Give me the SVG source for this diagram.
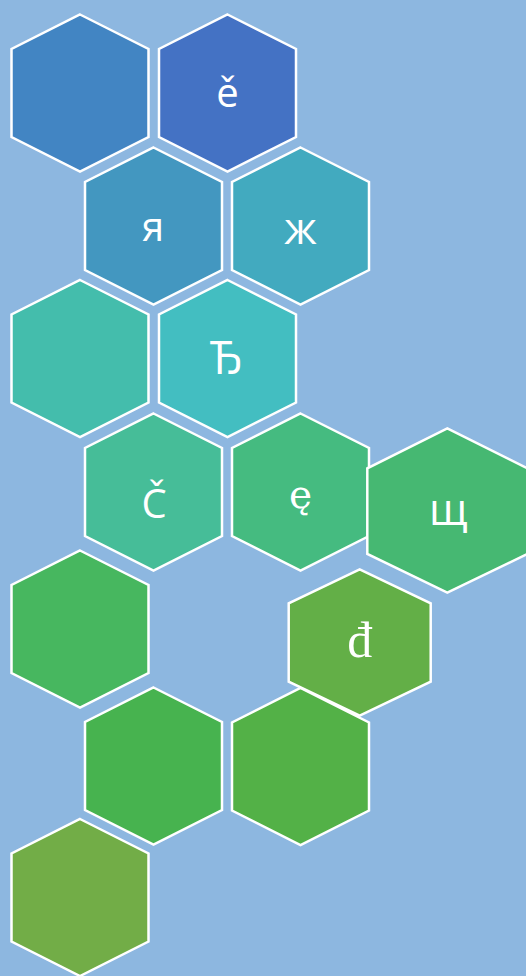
<svg xmlns="http://www.w3.org/2000/svg" width="526" height="976" viewBox="0 0 526 976">
<style>
.hx{stroke:#ffffff;stroke-width:2.5;stroke-linejoin:miter}
.s{font-family:"Open Sans","Noto Sans","DejaVu Sans",sans-serif;font-weight:400;fill:#ffffff;text-anchor:middle}
.r{font-family:"Liberation Serif","DejaVu Serif",serif;fill:#ffffff;text-anchor:middle}
.d{font-family:"DejaVu Serif","Liberation Serif",serif;fill:#ffffff;text-anchor:middle}
</style>
<defs>
<polygon id="hex" points="0,-78.5 68.5,-44 68.5,44 0,78.5 -68.5,44 -68.5,-44"/>
</defs>
<rect width="526" height="976" fill="#8DB7E0"/>
<g id="n1"><use href="#hex" x="80" y="93" class="hx" fill="#4285C3"/></g>
<g id="n2"><use href="#hex" x="227.5" y="93" class="hx" fill="#4472C4"/><text class="s" x="227.5" y="107" font-size="40">ě</text></g>
<g id="n3"><use href="#hex" x="153.5" y="226" class="hx" fill="#4397C0"/><text class="s" x="153" y="241" font-size="40">я</text></g>
<g id="n4"><use href="#hex" x="300.5" y="226" class="hx" fill="#42AABF"/><text class="s" x="300.5" y="244" font-size="44">ж</text></g>
<g id="n5"><use href="#hex" x="80" y="358.5" class="hx" fill="#44BDAC"/></g>
<g id="n6"><use href="#hex" x="227.5" y="358.5" class="hx" fill="#43BEC1"/><text class="s" x="226.5" y="374" font-size="46">Ђ</text></g>
<g id="n7"><use href="#hex" x="153.5" y="492" class="hx" fill="#46BD98"/><text class="s" x="154" y="518" font-size="40">Č</text></g>
<g id="n8"><use href="#hex" x="300.5" y="492" class="hx" fill="#45BB80"/><text class="d" x="300.5" y="507.5" font-size="39">ę</text></g>
<g id="n9"><polygon class="hx" fill="#46B872" points="447.3,428.3 527.3,468.3 527.3,554 447.3,592.7 367.3,554 367.3,468.3"/><text class="s" x="448.3" y="525" font-size="43">щ</text></g>
<g id="n10"><use href="#hex" x="80" y="629" class="hx" fill="#47B75F"/></g>
<g id="n12"><use href="#hex" x="153.5" y="766" class="hx" fill="#47B34F"/></g>
<g id="n13"><use href="#hex" x="300.5" y="766.5" class="hx" fill="#53B147"/></g>
<g id="n11"><polygon class="hx" fill="#63AF47" points="359.7,569.3 430.7,603.3 430.7,681.7 359.7,715.7 288.7,681.7 288.7,603.3"/><text class="r" x="359.7" y="657" font-size="50">đ</text></g>
<g id="n14"><use href="#hex" x="80" y="897.5" class="hx" fill="#72AD47"/></g>
</svg>
